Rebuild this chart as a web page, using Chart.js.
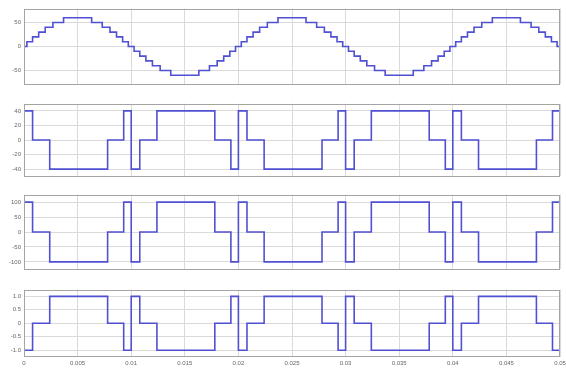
<!DOCTYPE html>
<html>
<head>
<meta charset="utf-8">
<script src="https://cdn.jsdelivr.net/npm/chart.js@4.4.1/dist/chart.umd.min.js"></script>
<style>
    html, body { margin: 0; padding: 0; background: #fff; }
    #wrap { position: relative; width: 566px; height: 371px; overflow: hidden; background: #fff; }
    #wrap canvas { position: absolute; left: 0; }
</style>
</head>
<body>
<div id="wrap">
    <canvas id="refChart"></canvas>
    <canvas id="phaseAChart"></canvas>
    <canvas id="phaseBChart"></canvas>
    <canvas id="phaseCChart"></canvas>
</div>
<script>
// time in ms, each value held until the next switching instant
const sineTimes = [0, 0.27, 0.80, 1.37, 1.98, 2.70, 3.69, 6.31, 7.30, 8.02, 8.63, 9.20, 9.73,
    10.27, 10.80, 11.37, 11.98, 12.70, 13.69, 16.31, 17.30, 18.02, 18.63, 19.20, 19.73,
    20.27, 20.80, 21.37, 21.98, 22.70, 23.69, 26.31, 27.30, 28.02, 28.63, 29.20, 29.73,
    30.27, 30.80, 31.37, 31.98, 32.70, 33.69, 36.31, 37.30, 38.02, 38.63, 39.20, 39.73,
    40.27, 40.80, 41.37, 41.98, 42.70, 43.69, 46.31, 47.30, 48.02, 48.63, 49.20, 49.73, 50];
const sineLevels = [0, 10, 20, 30, 40, 50, 60, 50, 40, 30, 20, 10, 0,
    -10, -20, -30, -40, -50, -60, -50, -40, -30, -20, -10, 0,
    10, 20, 30, 40, 50, 60, 50, 40, 30, 20, 10, 0,
    -10, -20, -30, -40, -50, -60, -50, -40, -30, -20, -10, 0,
    10, 20, 30, 40, 50, 60, 50, 40, 30, 20, 10, 0, 0];

const pulseTimes = [0, 0, 0.8, 2.4, 7.8, 9.3, 10.0, 10.8, 12.4, 17.8, 19.3,
    20.0, 20.8, 22.4, 27.8, 29.3, 30.0, 30.8, 32.4, 37.8, 39.3,
    40.0, 40.8, 42.4, 47.8, 49.3, 50];
const phaseA = [0, 40, 0, -40, 0, 40, -40, 0, 40, 0, -40,
    40, 0, -40, 0, 40, -40, 0, 40, 0, -40,
    40, 0, -40, 0, 40, 40];
const phaseB = [0, 100, 0, -100, 0, 100, -100, 0, 100, 0, -100,
    100, 0, -100, 0, 100, -100, 0, 100, 0, -100,
    100, 0, -100, 0, 100, 100];
const phaseC = [0, -1, 0, 1, 0, -1, 1, 0, -1, 0, 1,
    -1, 0, 1, 0, -1, 1, 0, -1, 0, 1,
    -1, 0, 1, 0, -1, -1];

const xTicks = [0, 5, 10, 15, 20, 25, 30, 35, 40, 45, 50];
const xTickLabels = ['0', '0.005', '0.01', '0.015', '0.02', '0.025', '0.03', '0.035', '0.04', '0.045', '0.05'];

const refTicks = [-50, 0, 50];
const phaseATicks = [-40, -20, 0, 20, 40];
const phaseBTicks = [-100, -50, 0, 50, 100];
const phaseCTicks = [-1, -0.5, 0, 0.5, 1];

const LINE_COLOR = 'rgb(80, 80, 210)';
const GRID_COLOR = '#dadada';
const BOX_COLOR = '#a4a4a4';
const TICK_FONT = { family: 'Liberation Sans', size: 6 };

const boxPlugin = {
    id: 'box',
    afterDraw(chart) {
        const a = chart.chartArea;
        const ctx = chart.ctx;
        ctx.save();
        ctx.strokeStyle = BOX_COLOR;
        ctx.lineWidth = 1;
        ctx.strokeRect(Math.round(a.left) + 0.5, Math.round(a.top) + 0.5,
            Math.round(a.right - a.left) - 1, Math.round(a.bottom - a.top) - 1);
        ctx.restore();
    }
};

function toPoints(times, values) {
    return times.map((t, i) => ({ x: t, y: values[i] }));
}

function makePanel(id, areaTop, areaBottom, times, values, yMin, yMax, yTicks, showX) {
    const padTop = 3;
    const padBottom = 3;
    const xHeight = showX ? 14 : 0;
    const canvas = document.getElementById(id);
    canvas.width = 566;
    canvas.height = Math.round(areaBottom - areaTop) + padTop + padBottom + xHeight;
    canvas.style.top = (Math.round(areaTop) - padTop) + 'px';

    return new Chart(canvas, {
        type: 'line',
        data: {
            datasets: [{
                data: toPoints(times, values),
                borderColor: LINE_COLOR,
                borderWidth: 1.6,
                pointRadius: 0,
                stepped: 'before', // horizontal to the next instant, then jump
                fill: false,
                tension: 0
            }]
        },
        options: {
            responsive: false,
            animation: false,
            events: [],
            layout: { padding: { top: padTop, bottom: padBottom, left: 0, right: 6 } },
            plugins: { legend: { display: false }, tooltip: { enabled: false } },
            scales: {
                x: {
                    type: 'linear',
                    min: 0,
                    max: 50,
                    afterBuildTicks: s => { s.ticks = xTicks.map(v => ({ value: v })); },
                    afterFit: s => { s.height = xHeight; s.paddingLeft = 0; s.paddingRight = 0; },
                    grid: { color: GRID_COLOR, drawTicks: false },
                    border: { display: false },
                    ticks: {
                        display: showX,
                        font: TICK_FONT,
                        color: '#666',
                        padding: 3,
                        maxRotation: 0,
                        autoSkip: false,
                        callback: (v, i) => xTickLabels[i]
                    }
                },
                y: {
                    min: yMin,
                    max: yMax,
                    afterBuildTicks: s => { s.ticks = yTicks.map(v => ({ value: v })); },
                    afterFit: s => { s.width = 24; },
                    grid: { color: GRID_COLOR, drawTicks: false },
                    border: { display: false },
                    ticks: {
                        font: TICK_FONT,
                        color: '#666',
                        padding: 3,
                        autoSkip: false
                    }
                }
            }
        },
        plugins: [boxPlugin]
    });
}

makePanel('refChart', 5, 88, sineTimes, sineLevels, -79, 79, refTicks, false);
makePanel('phaseAChart', 100, 180, pulseTimes, phaseA, -50, 50, phaseATicks, false);
makePanel('phaseBChart', 191, 273, pulseTimes, phaseB, -125, 125, phaseBTicks, false);
makePanel('phaseCChart', 286, 357, pulseTimes, phaseC, -1.25, 1.25, phaseCTicks, true);
</script>
</body>
</html>
